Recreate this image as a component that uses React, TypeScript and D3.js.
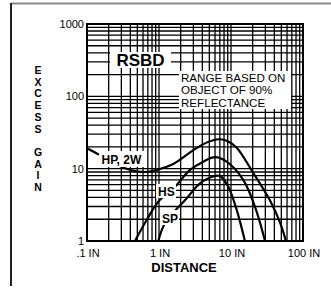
import * as d3 from 'd3';

// distance (in) vs excess gain
const hpDist = [0.1, 0.15, 0.25, 0.4, 0.65, 1.0, 1.5, 2, 3, 4, 5.5, 7, 9, 12, 20, 35, 48, 58];
const hpGain = [19.2, 15.5, 11.5, 9.6, 9.0, 9.8, 11.3, 13.5, 18, 21.5, 24.5, 25.5, 24, 19.5, 9, 3.6, 1.8, 1];

const hsDist = [0.464, 0.674, 0.98, 1.67, 2.7, 4.12, 6.0, 8.7, 14.8, 21.5, 29.7];
const hsGain = [1, 1.95, 3.5, 5.64, 9.6, 12.5, 14.4, 12.5, 7.0, 2.98, 1];

const spDist = [0.98, 1.21, 2.43, 3.71, 6.0, 7.03, 9.17, 12.0, 15.6];
const spGain = [1, 1.76, 3.9, 6.28, 7.93, 7.93, 5.64, 2.69, 1];

const xTicks = [0.1, 1, 10, 100];
const xTickLabels = ['.1 IN', '1 IN', '10 IN', '100 IN'];
const yTicks = [1, 10, 100, 1000];
const yTickLabels = ['1', '10', '100', '1000'];
const yTitle = ['E', 'X', 'C', 'E', 'S', 'S', '', 'G', 'A', 'I', 'N'];
const noteLines = ['RANGE BASED ON', 'OBJECT OF 90%', 'REFLECTANCE'];

const W = 331;
const H = 289;
const margin = { top: 24, right: 28, bottom: 48, left: 87 };
const font = '"Liberation Sans", Arial, sans-serif';

export default function App() {
  const x = d3.scaleLog().domain([0.1, 100]).range([margin.left, W - margin.right]);
  const y = d3.scaleLog().domain([1, 1000]).range([H - margin.bottom, margin.top]);

  // minor grid: 1..9 per decade
  const xGrid: number[] = [];
  const yGrid: number[] = [];
  [0.1, 1, 10].forEach((d) => d3.range(1, 10).forEach((m) => xGrid.push(d * m)));
  xGrid.push(100);
  [1, 10, 100].forEach((d) => d3.range(1, 10).forEach((m) => yGrid.push(d * m)));
  yGrid.push(1000);

  const line = d3
    .line<[number, number]>()
    .x((d) => x(d[0]))
    .y((d) => y(d[1]))
    .curve(d3.curveCatmullRom.alpha(0.5));

  const curves = [
    d3.zip(hpDist, hpGain) as [number, number][],
    d3.zip(hsDist, hsGain) as [number, number][],
    d3.zip(spDist, spGain) as [number, number][],
  ];

  const [x0, x1] = x.range();
  const [y0, y1] = y.range();

  // white label boxes sitting on top of the grid
  const boxes = [
    { x: 110, y: 52, w: 61, h: 16 },
    { x: 179, y: 71, w: 112, h: 38 },
    { x: 99, y: 151, w: 45, h: 16 },
    { x: 156, y: 184, w: 20, h: 14 },
    { x: 160, y: 210, w: 19, h: 15 },
  ];

  return (
    <svg
      width={W}
      height={H}
      style={{ position: 'absolute', left: 0, top: 0, background: '#fff' }}
      fontFamily={font}
    >
      <line x1={11} x2={W} y1={3.5} y2={3.5} stroke="#888" strokeWidth={2} />
      <line x1={11} x2={11} y1={3} y2={286} stroke="#222" strokeWidth={2} />

      <defs>
        <clipPath id="plot">
          <rect x={x0} y={y1} width={x1 - x0} height={y0 - y1} />
        </clipPath>
      </defs>

      <g stroke="#000" strokeWidth={1.3}>
        {xGrid.map((v) => (
          <line key={'x' + v} x1={x(v)} x2={x(v)} y1={y1} y2={y0} />
        ))}
        {yGrid.map((v) => (
          <line key={'y' + v} x1={x0} x2={x1} y1={y(v)} y2={y(v)} />
        ))}
      </g>

      <g clipPath="url(#plot)" fill="none" stroke="#000" strokeWidth={2.2}>
        {curves.map((c, i) => (
          <path key={i} d={line(c) ?? ''} />
        ))}
      </g>

      <rect x={x0} y={y1} width={x1 - x0} height={y0 - y1} fill="none" stroke="#000" strokeWidth={2} />

      {boxes.map((b, i) => (
        <rect key={i} x={b.x} y={b.y} width={b.w} height={b.h} fill="#fff" />
      ))}

      <text x={140.5} y={66} textAnchor="middle" fontSize={17} fontWeight="bold">
        RSBD
      </text>
      {noteLines.map((t, i) => (
        <text key={t} x={181} y={82 + i * 12.4} fontSize={11.6}>
          {t}
        </text>
      ))}
      <text x={101.5} y={164} fontSize={12} fontWeight="bold">
        HP, 2W
      </text>
      <text x={158} y={195.5} fontSize={12} fontWeight="bold">
        HS
      </text>
      <text x={162} y={222.5} fontSize={12} fontWeight="bold">
        SP
      </text>

      {yTicks.map((v, i) => (
        <text key={v} x={x0 - 3} y={y(v) + 4} textAnchor="end" fontSize={11}>
          {yTickLabels[i]}
        </text>
      ))}
      {xTicks.map((v, i) => (
        <text key={v} x={x(v) + 1} y={257} textAnchor="middle" fontSize={11}>
          {xTickLabels[i]}
        </text>
      ))}
      <text x={184} y={272} textAnchor="middle" fontSize={13} fontWeight="bold">
        DISTANCE
      </text>
      {yTitle.map((c, i) => (
        <text key={i} x={38} y={74 + i * 11.7} textAnchor="middle" fontSize={10.5} fontWeight="bold">
          {c}
        </text>
      ))}
    </svg>
  );
}
